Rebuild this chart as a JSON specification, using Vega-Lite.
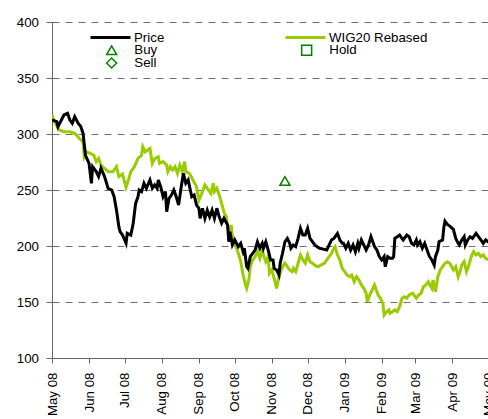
{
  "$schema": "https://vega.github.io/schema/vega-lite/v6.json",
  "width": 436,
  "height": 336,
  "autosize": {"type": "none"},
  "padding": {"left": 52, "top": 22, "right": 0, "bottom": 61},
  "background": "white",
  "config": {
    "view": {"stroke": null},
    "font": "Liberation Sans",
    "axis": {"labelFont": "Liberation Sans", "labelFontSize": 13.3, "labelColor": "#000000", "domainColor": "#666666", "tickColor": "#666666", "title": null},
    "legend": {"labelFont": "Liberation Sans", "labelFontSize": 13.3, "labelColor": "#000000", "padding": 0, "title": null}
  },
  "datasets": {
    "wig": [
      {"date": "2008-05-01", "value": 317, "series": "WIG20 Rebased"},
      {"date": "2008-05-03", "value": 311, "series": "WIG20 Rebased"},
      {"date": "2008-05-07", "value": 303.6, "series": "WIG20 Rebased"},
      {"date": "2008-05-11", "value": 302, "series": "WIG20 Rebased"},
      {"date": "2008-05-16", "value": 302, "series": "WIG20 Rebased"},
      {"date": "2008-05-20", "value": 300.6, "series": "WIG20 Rebased"},
      {"date": "2008-05-24", "value": 296, "series": "WIG20 Rebased"},
      {"date": "2008-05-27", "value": 293, "series": "WIG20 Rebased"},
      {"date": "2008-05-28", "value": 279.7, "series": "WIG20 Rebased"},
      {"date": "2008-05-30", "value": 284, "series": "WIG20 Rebased"},
      {"date": "2008-06-02", "value": 282.7, "series": "WIG20 Rebased"},
      {"date": "2008-06-05", "value": 281, "series": "WIG20 Rebased"},
      {"date": "2008-06-07", "value": 275.3, "series": "WIG20 Rebased"},
      {"date": "2008-06-09", "value": 278.2, "series": "WIG20 Rebased"},
      {"date": "2008-06-11", "value": 272.3, "series": "WIG20 Rebased"},
      {"date": "2008-06-14", "value": 269.4, "series": "WIG20 Rebased"},
      {"date": "2008-06-17", "value": 266.4, "series": "WIG20 Rebased"},
      {"date": "2008-06-21", "value": 266.4, "series": "WIG20 Rebased"},
      {"date": "2008-06-24", "value": 270.8, "series": "WIG20 Rebased"},
      {"date": "2008-06-26", "value": 262, "series": "WIG20 Rebased"},
      {"date": "2008-06-29", "value": 264.3, "series": "WIG20 Rebased"},
      {"date": "2008-07-02", "value": 252.4, "series": "WIG20 Rebased"},
      {"date": "2008-07-04", "value": 259, "series": "WIG20 Rebased"},
      {"date": "2008-07-06", "value": 266.4, "series": "WIG20 Rebased"},
      {"date": "2008-07-09", "value": 270.8, "series": "WIG20 Rebased"},
      {"date": "2008-07-12", "value": 278.2, "series": "WIG20 Rebased"},
      {"date": "2008-07-15", "value": 281, "series": "WIG20 Rebased"},
      {"date": "2008-07-16", "value": 288.6, "series": "WIG20 Rebased"},
      {"date": "2008-07-18", "value": 284, "series": "WIG20 Rebased"},
      {"date": "2008-07-20", "value": 285.7, "series": "WIG20 Rebased"},
      {"date": "2008-07-22", "value": 287, "series": "WIG20 Rebased"},
      {"date": "2008-07-24", "value": 273.8, "series": "WIG20 Rebased"},
      {"date": "2008-07-26", "value": 278, "series": "WIG20 Rebased"},
      {"date": "2008-07-29", "value": 279.7, "series": "WIG20 Rebased"},
      {"date": "2008-07-30", "value": 273.8, "series": "WIG20 Rebased"},
      {"date": "2008-08-02", "value": 275.3, "series": "WIG20 Rebased"},
      {"date": "2008-08-05", "value": 272.3, "series": "WIG20 Rebased"},
      {"date": "2008-08-06", "value": 266.4, "series": "WIG20 Rebased"},
      {"date": "2008-08-08", "value": 270.8, "series": "WIG20 Rebased"},
      {"date": "2008-08-10", "value": 267.9, "series": "WIG20 Rebased"},
      {"date": "2008-08-12", "value": 270.8, "series": "WIG20 Rebased"},
      {"date": "2008-08-14", "value": 264.9, "series": "WIG20 Rebased"},
      {"date": "2008-08-16", "value": 272.3, "series": "WIG20 Rebased"},
      {"date": "2008-08-18", "value": 266.4, "series": "WIG20 Rebased"},
      {"date": "2008-08-20", "value": 275.3, "series": "WIG20 Rebased"},
      {"date": "2008-08-21", "value": 266.4, "series": "WIG20 Rebased"},
      {"date": "2008-08-24", "value": 264.9, "series": "WIG20 Rebased"},
      {"date": "2008-08-27", "value": 259, "series": "WIG20 Rebased"},
      {"date": "2008-08-30", "value": 253, "series": "WIG20 Rebased"},
      {"date": "2008-09-01", "value": 241, "series": "WIG20 Rebased"},
      {"date": "2008-09-04", "value": 248.5, "series": "WIG20 Rebased"},
      {"date": "2008-09-06", "value": 254.5, "series": "WIG20 Rebased"},
      {"date": "2008-09-08", "value": 251.5, "series": "WIG20 Rebased"},
      {"date": "2008-09-11", "value": 247, "series": "WIG20 Rebased"},
      {"date": "2008-09-13", "value": 256, "series": "WIG20 Rebased"},
      {"date": "2008-09-14", "value": 248.5, "series": "WIG20 Rebased"},
      {"date": "2008-09-16", "value": 251.5, "series": "WIG20 Rebased"},
      {"date": "2008-09-18", "value": 245.5, "series": "WIG20 Rebased"},
      {"date": "2008-09-20", "value": 238, "series": "WIG20 Rebased"},
      {"date": "2008-09-22", "value": 230, "series": "WIG20 Rebased"},
      {"date": "2008-09-24", "value": 226, "series": "WIG20 Rebased"},
      {"date": "2008-09-25", "value": 217.2, "series": "WIG20 Rebased"},
      {"date": "2008-09-27", "value": 209.8, "series": "WIG20 Rebased"},
      {"date": "2008-09-28", "value": 218.8, "series": "WIG20 Rebased"},
      {"date": "2008-09-29", "value": 208.3, "series": "WIG20 Rebased"},
      {"date": "2008-10-01", "value": 200.9, "series": "WIG20 Rebased"},
      {"date": "2008-10-02", "value": 199.4, "series": "WIG20 Rebased"},
      {"date": "2008-10-04", "value": 193.5, "series": "WIG20 Rebased"},
      {"date": "2008-10-06", "value": 186, "series": "WIG20 Rebased"},
      {"date": "2008-10-08", "value": 174.1, "series": "WIG20 Rebased"},
      {"date": "2008-10-10", "value": 165.2, "series": "WIG20 Rebased"},
      {"date": "2008-10-11", "value": 162.2, "series": "WIG20 Rebased"},
      {"date": "2008-10-13", "value": 171.1, "series": "WIG20 Rebased"},
      {"date": "2008-10-14", "value": 181.5, "series": "WIG20 Rebased"},
      {"date": "2008-10-16", "value": 187.5, "series": "WIG20 Rebased"},
      {"date": "2008-10-18", "value": 190.5, "series": "WIG20 Rebased"},
      {"date": "2008-10-20", "value": 194.9, "series": "WIG20 Rebased"},
      {"date": "2008-10-22", "value": 189, "series": "WIG20 Rebased"},
      {"date": "2008-10-24", "value": 196.4, "series": "WIG20 Rebased"},
      {"date": "2008-10-25", "value": 192, "series": "WIG20 Rebased"},
      {"date": "2008-10-27", "value": 186, "series": "WIG20 Rebased"},
      {"date": "2008-10-29", "value": 190.5, "series": "WIG20 Rebased"},
      {"date": "2008-10-30", "value": 175.6, "series": "WIG20 Rebased"},
      {"date": "2008-11-01", "value": 178.6, "series": "WIG20 Rebased"},
      {"date": "2008-11-03", "value": 171.1, "series": "WIG20 Rebased"},
      {"date": "2008-11-05", "value": 162.2, "series": "WIG20 Rebased"},
      {"date": "2008-11-07", "value": 172.6, "series": "WIG20 Rebased"},
      {"date": "2008-11-08", "value": 175.6, "series": "WIG20 Rebased"},
      {"date": "2008-11-10", "value": 181.5, "series": "WIG20 Rebased"},
      {"date": "2008-11-12", "value": 184.6, "series": "WIG20 Rebased"},
      {"date": "2008-11-14", "value": 181.5, "series": "WIG20 Rebased"},
      {"date": "2008-11-16", "value": 178.6, "series": "WIG20 Rebased"},
      {"date": "2008-11-18", "value": 177.1, "series": "WIG20 Rebased"},
      {"date": "2008-11-19", "value": 180, "series": "WIG20 Rebased"},
      {"date": "2008-11-21", "value": 177.1, "series": "WIG20 Rebased"},
      {"date": "2008-11-23", "value": 184.6, "series": "WIG20 Rebased"},
      {"date": "2008-11-25", "value": 192, "series": "WIG20 Rebased"},
      {"date": "2008-11-27", "value": 187.5, "series": "WIG20 Rebased"},
      {"date": "2008-11-29", "value": 184.6, "series": "WIG20 Rebased"},
      {"date": "2008-12-01", "value": 192, "series": "WIG20 Rebased"},
      {"date": "2008-12-03", "value": 186, "series": "WIG20 Rebased"},
      {"date": "2008-12-05", "value": 184.6, "series": "WIG20 Rebased"},
      {"date": "2008-12-08", "value": 182.1, "series": "WIG20 Rebased"},
      {"date": "2008-12-10", "value": 181.5, "series": "WIG20 Rebased"},
      {"date": "2008-12-12", "value": 183, "series": "WIG20 Rebased"},
      {"date": "2008-12-15", "value": 184.6, "series": "WIG20 Rebased"},
      {"date": "2008-12-18", "value": 189, "series": "WIG20 Rebased"},
      {"date": "2008-12-21", "value": 193.5, "series": "WIG20 Rebased"},
      {"date": "2008-12-23", "value": 198, "series": "WIG20 Rebased"},
      {"date": "2008-12-24", "value": 199.4, "series": "WIG20 Rebased"},
      {"date": "2008-12-26", "value": 192, "series": "WIG20 Rebased"},
      {"date": "2008-12-28", "value": 187.5, "series": "WIG20 Rebased"},
      {"date": "2008-12-30", "value": 180, "series": "WIG20 Rebased"},
      {"date": "2009-01-01", "value": 177.1, "series": "WIG20 Rebased"},
      {"date": "2009-01-03", "value": 174.1, "series": "WIG20 Rebased"},
      {"date": "2009-01-05", "value": 172.6, "series": "WIG20 Rebased"},
      {"date": "2009-01-07", "value": 174.1, "series": "WIG20 Rebased"},
      {"date": "2009-01-09", "value": 168.1, "series": "WIG20 Rebased"},
      {"date": "2009-01-11", "value": 172.6, "series": "WIG20 Rebased"},
      {"date": "2009-01-13", "value": 169.6, "series": "WIG20 Rebased"},
      {"date": "2009-01-15", "value": 165.2, "series": "WIG20 Rebased"},
      {"date": "2009-01-17", "value": 162.2, "series": "WIG20 Rebased"},
      {"date": "2009-01-19", "value": 157.8, "series": "WIG20 Rebased"},
      {"date": "2009-01-20", "value": 150.3, "series": "WIG20 Rebased"},
      {"date": "2009-01-22", "value": 156.3, "series": "WIG20 Rebased"},
      {"date": "2009-01-24", "value": 160.7, "series": "WIG20 Rebased"},
      {"date": "2009-01-26", "value": 165.2, "series": "WIG20 Rebased"},
      {"date": "2009-01-27", "value": 162.2, "series": "WIG20 Rebased"},
      {"date": "2009-01-29", "value": 156.3, "series": "WIG20 Rebased"},
      {"date": "2009-01-31", "value": 153.3, "series": "WIG20 Rebased"},
      {"date": "2009-02-02", "value": 148.8, "series": "WIG20 Rebased"},
      {"date": "2009-02-03", "value": 138.4, "series": "WIG20 Rebased"},
      {"date": "2009-02-05", "value": 141.3, "series": "WIG20 Rebased"},
      {"date": "2009-02-07", "value": 142.9, "series": "WIG20 Rebased"},
      {"date": "2009-02-08", "value": 139.9, "series": "WIG20 Rebased"},
      {"date": "2009-02-10", "value": 141.3, "series": "WIG20 Rebased"},
      {"date": "2009-02-12", "value": 142.9, "series": "WIG20 Rebased"},
      {"date": "2009-02-14", "value": 141.3, "series": "WIG20 Rebased"},
      {"date": "2009-02-16", "value": 145.8, "series": "WIG20 Rebased"},
      {"date": "2009-02-18", "value": 153.3, "series": "WIG20 Rebased"},
      {"date": "2009-02-20", "value": 154.7, "series": "WIG20 Rebased"},
      {"date": "2009-02-22", "value": 153.3, "series": "WIG20 Rebased"},
      {"date": "2009-02-24", "value": 156.3, "series": "WIG20 Rebased"},
      {"date": "2009-02-27", "value": 157.8, "series": "WIG20 Rebased"},
      {"date": "2009-03-01", "value": 154.7, "series": "WIG20 Rebased"},
      {"date": "2009-03-02", "value": 153.3, "series": "WIG20 Rebased"},
      {"date": "2009-03-04", "value": 156.3, "series": "WIG20 Rebased"},
      {"date": "2009-03-06", "value": 157.8, "series": "WIG20 Rebased"},
      {"date": "2009-03-08", "value": 163.7, "series": "WIG20 Rebased"},
      {"date": "2009-03-10", "value": 165.2, "series": "WIG20 Rebased"},
      {"date": "2009-03-12", "value": 168.1, "series": "WIG20 Rebased"},
      {"date": "2009-03-15", "value": 162.2, "series": "WIG20 Rebased"},
      {"date": "2009-03-16", "value": 169.6, "series": "WIG20 Rebased"},
      {"date": "2009-03-18", "value": 159.2, "series": "WIG20 Rebased"},
      {"date": "2009-03-20", "value": 172.6, "series": "WIG20 Rebased"},
      {"date": "2009-03-22", "value": 178.6, "series": "WIG20 Rebased"},
      {"date": "2009-03-24", "value": 181.5, "series": "WIG20 Rebased"},
      {"date": "2009-03-26", "value": 184.6, "series": "WIG20 Rebased"},
      {"date": "2009-03-28", "value": 186, "series": "WIG20 Rebased"},
      {"date": "2009-03-30", "value": 184.6, "series": "WIG20 Rebased"},
      {"date": "2009-04-02", "value": 178.6, "series": "WIG20 Rebased"},
      {"date": "2009-04-04", "value": 181.5, "series": "WIG20 Rebased"},
      {"date": "2009-04-06", "value": 172.6, "series": "WIG20 Rebased"},
      {"date": "2009-04-08", "value": 178.6, "series": "WIG20 Rebased"},
      {"date": "2009-04-09", "value": 183, "series": "WIG20 Rebased"},
      {"date": "2009-04-11", "value": 186, "series": "WIG20 Rebased"},
      {"date": "2009-04-13", "value": 177.1, "series": "WIG20 Rebased"},
      {"date": "2009-04-15", "value": 183, "series": "WIG20 Rebased"},
      {"date": "2009-04-17", "value": 190.5, "series": "WIG20 Rebased"},
      {"date": "2009-04-19", "value": 194.9, "series": "WIG20 Rebased"},
      {"date": "2009-04-21", "value": 192, "series": "WIG20 Rebased"},
      {"date": "2009-04-23", "value": 193.5, "series": "WIG20 Rebased"},
      {"date": "2009-04-25", "value": 190.5, "series": "WIG20 Rebased"},
      {"date": "2009-04-27", "value": 192, "series": "WIG20 Rebased"},
      {"date": "2009-04-29", "value": 189, "series": "WIG20 Rebased"},
      {"date": "2009-05-01", "value": 188, "series": "WIG20 Rebased"},
      {"date": "2009-05-04", "value": 189, "series": "WIG20 Rebased"}
    ],
    "price": [
      {"date": "2008-05-01", "value": 312.5, "series": "Price"},
      {"date": "2008-05-05", "value": 311, "series": "Price"},
      {"date": "2008-05-06", "value": 306.5, "series": "Price"},
      {"date": "2008-05-11", "value": 317, "series": "Price"},
      {"date": "2008-05-14", "value": 318.5, "series": "Price"},
      {"date": "2008-05-16", "value": 312.5, "series": "Price"},
      {"date": "2008-05-18", "value": 309.5, "series": "Price"},
      {"date": "2008-05-20", "value": 315.5, "series": "Price"},
      {"date": "2008-05-23", "value": 309.5, "series": "Price"},
      {"date": "2008-05-25", "value": 307, "series": "Price"},
      {"date": "2008-05-27", "value": 300.6, "series": "Price"},
      {"date": "2008-05-29", "value": 281, "series": "Price"},
      {"date": "2008-06-01", "value": 273.8, "series": "Price"},
      {"date": "2008-06-03", "value": 256, "series": "Price"},
      {"date": "2008-06-04", "value": 270.8, "series": "Price"},
      {"date": "2008-06-07", "value": 266.4, "series": "Price"},
      {"date": "2008-06-09", "value": 262, "series": "Price"},
      {"date": "2008-06-11", "value": 269.4, "series": "Price"},
      {"date": "2008-06-14", "value": 262, "series": "Price"},
      {"date": "2008-06-17", "value": 251.5, "series": "Price"},
      {"date": "2008-06-20", "value": 250, "series": "Price"},
      {"date": "2008-06-22", "value": 244, "series": "Price"},
      {"date": "2008-06-24", "value": 232, "series": "Price"},
      {"date": "2008-06-26", "value": 217, "series": "Price"},
      {"date": "2008-06-27", "value": 212.8, "series": "Price"},
      {"date": "2008-06-29", "value": 209.8, "series": "Price"},
      {"date": "2008-07-02", "value": 202.4, "series": "Price"},
      {"date": "2008-07-03", "value": 211.3, "series": "Price"},
      {"date": "2008-07-06", "value": 209.8, "series": "Price"},
      {"date": "2008-07-08", "value": 220.3, "series": "Price"},
      {"date": "2008-07-10", "value": 238, "series": "Price"},
      {"date": "2008-07-12", "value": 244, "series": "Price"},
      {"date": "2008-07-13", "value": 250, "series": "Price"},
      {"date": "2008-07-15", "value": 248.5, "series": "Price"},
      {"date": "2008-07-17", "value": 256, "series": "Price"},
      {"date": "2008-07-19", "value": 251.5, "series": "Price"},
      {"date": "2008-07-22", "value": 259, "series": "Price"},
      {"date": "2008-07-24", "value": 251.5, "series": "Price"},
      {"date": "2008-07-26", "value": 254.5, "series": "Price"},
      {"date": "2008-07-28", "value": 251.5, "series": "Price"},
      {"date": "2008-07-29", "value": 259, "series": "Price"},
      {"date": "2008-07-31", "value": 253, "series": "Price"},
      {"date": "2008-08-02", "value": 244, "series": "Price"},
      {"date": "2008-08-04", "value": 248.5, "series": "Price"},
      {"date": "2008-08-05", "value": 230.6, "series": "Price"},
      {"date": "2008-08-07", "value": 242.6, "series": "Price"},
      {"date": "2008-08-09", "value": 245.5, "series": "Price"},
      {"date": "2008-08-11", "value": 250, "series": "Price"},
      {"date": "2008-08-13", "value": 244, "series": "Price"},
      {"date": "2008-08-15", "value": 236.5, "series": "Price"},
      {"date": "2008-08-17", "value": 251.5, "series": "Price"},
      {"date": "2008-08-19", "value": 264.9, "series": "Price"},
      {"date": "2008-08-21", "value": 256, "series": "Price"},
      {"date": "2008-08-23", "value": 259, "series": "Price"},
      {"date": "2008-08-26", "value": 244, "series": "Price"},
      {"date": "2008-08-28", "value": 245.5, "series": "Price"},
      {"date": "2008-08-30", "value": 236.5, "series": "Price"},
      {"date": "2008-09-01", "value": 233.7, "series": "Price"},
      {"date": "2008-09-02", "value": 224.7, "series": "Price"},
      {"date": "2008-09-04", "value": 233.7, "series": "Price"},
      {"date": "2008-09-06", "value": 224.7, "series": "Price"},
      {"date": "2008-09-08", "value": 232, "series": "Price"},
      {"date": "2008-09-10", "value": 226, "series": "Price"},
      {"date": "2008-09-12", "value": 232, "series": "Price"},
      {"date": "2008-09-14", "value": 224.7, "series": "Price"},
      {"date": "2008-09-16", "value": 233.7, "series": "Price"},
      {"date": "2008-09-18", "value": 226, "series": "Price"},
      {"date": "2008-09-20", "value": 220.3, "series": "Price"},
      {"date": "2008-09-22", "value": 224.7, "series": "Price"},
      {"date": "2008-09-25", "value": 218.8, "series": "Price"},
      {"date": "2008-09-26", "value": 203.8, "series": "Price"},
      {"date": "2008-09-27", "value": 212.8, "series": "Price"},
      {"date": "2008-09-29", "value": 200.9, "series": "Price"},
      {"date": "2008-10-01", "value": 205.4, "series": "Price"},
      {"date": "2008-10-04", "value": 199.4, "series": "Price"},
      {"date": "2008-10-06", "value": 202.4, "series": "Price"},
      {"date": "2008-10-08", "value": 194.9, "series": "Price"},
      {"date": "2008-10-09", "value": 198, "series": "Price"},
      {"date": "2008-10-11", "value": 181.5, "series": "Price"},
      {"date": "2008-10-12", "value": 180, "series": "Price"},
      {"date": "2008-10-14", "value": 190.5, "series": "Price"},
      {"date": "2008-10-16", "value": 193.5, "series": "Price"},
      {"date": "2008-10-18", "value": 196.4, "series": "Price"},
      {"date": "2008-10-20", "value": 203.8, "series": "Price"},
      {"date": "2008-10-22", "value": 198, "series": "Price"},
      {"date": "2008-10-24", "value": 202.4, "series": "Price"},
      {"date": "2008-10-25", "value": 198, "series": "Price"},
      {"date": "2008-10-27", "value": 203.8, "series": "Price"},
      {"date": "2008-10-29", "value": 196.4, "series": "Price"},
      {"date": "2008-10-31", "value": 187.5, "series": "Price"},
      {"date": "2008-11-02", "value": 187.5, "series": "Price"},
      {"date": "2008-11-03", "value": 180, "series": "Price"},
      {"date": "2008-11-05", "value": 178.6, "series": "Price"},
      {"date": "2008-11-07", "value": 174.1, "series": "Price"},
      {"date": "2008-11-08", "value": 184.6, "series": "Price"},
      {"date": "2008-11-10", "value": 193.5, "series": "Price"},
      {"date": "2008-11-12", "value": 203.8, "series": "Price"},
      {"date": "2008-11-14", "value": 206.8, "series": "Price"},
      {"date": "2008-11-16", "value": 202.4, "series": "Price"},
      {"date": "2008-11-17", "value": 198, "series": "Price"},
      {"date": "2008-11-19", "value": 200.9, "series": "Price"},
      {"date": "2008-11-21", "value": 199.4, "series": "Price"},
      {"date": "2008-11-23", "value": 206.8, "series": "Price"},
      {"date": "2008-11-25", "value": 215.8, "series": "Price"},
      {"date": "2008-11-27", "value": 209.8, "series": "Price"},
      {"date": "2008-11-29", "value": 209.8, "series": "Price"},
      {"date": "2008-12-01", "value": 215.8, "series": "Price"},
      {"date": "2008-12-03", "value": 206.8, "series": "Price"},
      {"date": "2008-12-05", "value": 203.8, "series": "Price"},
      {"date": "2008-12-07", "value": 200.9, "series": "Price"},
      {"date": "2008-12-09", "value": 199.4, "series": "Price"},
      {"date": "2008-12-11", "value": 198, "series": "Price"},
      {"date": "2008-12-15", "value": 197, "series": "Price"},
      {"date": "2008-12-17", "value": 196.4, "series": "Price"},
      {"date": "2008-12-19", "value": 200.9, "series": "Price"},
      {"date": "2008-12-21", "value": 205.4, "series": "Price"},
      {"date": "2008-12-23", "value": 206.8, "series": "Price"},
      {"date": "2008-12-26", "value": 211.3, "series": "Price"},
      {"date": "2008-12-28", "value": 205.4, "series": "Price"},
      {"date": "2008-12-30", "value": 202.4, "series": "Price"},
      {"date": "2008-12-31", "value": 202.4, "series": "Price"},
      {"date": "2009-01-02", "value": 198, "series": "Price"},
      {"date": "2009-01-04", "value": 202.4, "series": "Price"},
      {"date": "2009-01-06", "value": 196.4, "series": "Price"},
      {"date": "2009-01-08", "value": 200.9, "series": "Price"},
      {"date": "2009-01-10", "value": 194.9, "series": "Price"},
      {"date": "2009-01-12", "value": 202.4, "series": "Price"},
      {"date": "2009-01-13", "value": 198, "series": "Price"},
      {"date": "2009-01-15", "value": 205.4, "series": "Price"},
      {"date": "2009-01-17", "value": 200.9, "series": "Price"},
      {"date": "2009-01-19", "value": 196.4, "series": "Price"},
      {"date": "2009-01-21", "value": 200.9, "series": "Price"},
      {"date": "2009-01-23", "value": 208.3, "series": "Price"},
      {"date": "2009-01-25", "value": 202.4, "series": "Price"},
      {"date": "2009-01-26", "value": 199.4, "series": "Price"},
      {"date": "2009-01-28", "value": 196.4, "series": "Price"},
      {"date": "2009-01-30", "value": 190.5, "series": "Price"},
      {"date": "2009-02-01", "value": 187.5, "series": "Price"},
      {"date": "2009-02-03", "value": 190.5, "series": "Price"},
      {"date": "2009-02-04", "value": 181.5, "series": "Price"},
      {"date": "2009-02-06", "value": 190.5, "series": "Price"},
      {"date": "2009-02-08", "value": 189, "series": "Price"},
      {"date": "2009-02-10", "value": 189, "series": "Price"},
      {"date": "2009-02-11", "value": 190.5, "series": "Price"},
      {"date": "2009-02-12", "value": 206.8, "series": "Price"},
      {"date": "2009-02-14", "value": 208.3, "series": "Price"},
      {"date": "2009-02-16", "value": 209.8, "series": "Price"},
      {"date": "2009-02-19", "value": 205.4, "series": "Price"},
      {"date": "2009-02-22", "value": 209.8, "series": "Price"},
      {"date": "2009-02-24", "value": 208.3, "series": "Price"},
      {"date": "2009-02-26", "value": 202.4, "series": "Price"},
      {"date": "2009-02-28", "value": 200.9, "series": "Price"},
      {"date": "2009-03-02", "value": 205.4, "series": "Price"},
      {"date": "2009-03-03", "value": 200.9, "series": "Price"},
      {"date": "2009-03-05", "value": 203.8, "series": "Price"},
      {"date": "2009-03-07", "value": 198, "series": "Price"},
      {"date": "2009-03-09", "value": 202.4, "series": "Price"},
      {"date": "2009-03-11", "value": 196.4, "series": "Price"},
      {"date": "2009-03-13", "value": 190.5, "series": "Price"},
      {"date": "2009-03-15", "value": 187.5, "series": "Price"},
      {"date": "2009-03-17", "value": 183, "series": "Price"},
      {"date": "2009-03-18", "value": 190.5, "series": "Price"},
      {"date": "2009-03-20", "value": 196.4, "series": "Price"},
      {"date": "2009-03-21", "value": 203.8, "series": "Price"},
      {"date": "2009-03-24", "value": 205.4, "series": "Price"},
      {"date": "2009-03-25", "value": 216.3, "series": "Price"},
      {"date": "2009-03-26", "value": 222.2, "series": "Price"},
      {"date": "2009-03-28", "value": 219.3, "series": "Price"},
      {"date": "2009-03-30", "value": 217.8, "series": "Price"},
      {"date": "2009-04-02", "value": 214.8, "series": "Price"},
      {"date": "2009-04-04", "value": 206.8, "series": "Price"},
      {"date": "2009-04-06", "value": 202.4, "series": "Price"},
      {"date": "2009-04-07", "value": 200.9, "series": "Price"},
      {"date": "2009-04-09", "value": 205.4, "series": "Price"},
      {"date": "2009-04-11", "value": 208.3, "series": "Price"},
      {"date": "2009-04-12", "value": 200.9, "series": "Price"},
      {"date": "2009-04-14", "value": 205.4, "series": "Price"},
      {"date": "2009-04-16", "value": 208.3, "series": "Price"},
      {"date": "2009-04-18", "value": 206.8, "series": "Price"},
      {"date": "2009-04-21", "value": 211.3, "series": "Price"},
      {"date": "2009-04-23", "value": 208.3, "series": "Price"},
      {"date": "2009-04-25", "value": 205.4, "series": "Price"},
      {"date": "2009-04-27", "value": 202.4, "series": "Price"},
      {"date": "2009-04-29", "value": 205.4, "series": "Price"},
      {"date": "2009-05-01", "value": 203.8, "series": "Price"},
      {"date": "2009-05-04", "value": 205, "series": "Price"}
    ],
    "signals": [
      {"date": "2008-11-12", "value": 258, "signal": "Buy"}
    ]
  },
  "encoding": {
    "x": {
      "field": "date",
      "type": "temporal",
      "scale": {"type": "utc", "domain": [{"year": 2008, "month": 5, "date": 1, "utc": true}, {"year": 2009, "month": 5, "date": 1, "utc": true}]},
      "axis": {"title": null, "grid": false, "tickCount": {"interval": "month", "step": 1}, "labelExpr": "utcFormat(datum.value, '%b %y')", "labelAngle": 270, "tickSize": 5, "labelPadding": 9, "labelFlush": false, "labelOverlap": false, "labelBound": false}
    },
    "y": {
      "field": "value",
      "type": "quantitative",
      "scale": {"domain": [100, 400], "nice": false, "zero": false},
      "axis": {"title": null, "values": [100, 150, 200, 250, 300, 350, 400], "grid": true, "gridDash": [7, 6], "gridColor": "#707070", "gridWidth": 1, "tickSize": 6, "labelPadding": 7.5}
    }
  },
  "layer": [
    {
      "data": {"name": "wig"},
      "mark": {"type": "line", "strokeWidth": 3, "clip": true},
      "encoding": {
        "color": {
          "field": "series",
          "type": "nominal",
          "scale": {"domain": ["Price", "WIG20 Rebased"], "range": ["#000000", "#99CC00"]},
          "legend": {"orient": "none", "direction": "horizontal", "legendX": 37, "legendY": 9, "columns": 2, "columnPadding": 119, "symbolType": "stroke", "symbolSize": 1600, "symbolStrokeWidth": 3, "labelOffset": 2, "clipHeight": 13, "title": null}
        }
      }
    },
    {
      "data": {"name": "price"},
      "mark": {"type": "line", "strokeWidth": 3, "clip": true},
      "encoding": {
        "color": {"field": "series", "type": "nominal"}
      }
    },
    {
      "data": {"name": "signals"},
      "mark": {"type": "point", "filled": false, "color": "#008000", "size": 100, "strokeWidth": 1.5, "opacity": 1},
      "encoding": {
        "shape": {
          "field": "signal",
          "type": "nominal",
          "scale": {"domain": ["Buy", "Hold", "Sell"], "range": ["triangle-up", "square", "diamond"]},
          "legend": {"orient": "none", "direction": "horizontal", "legendX": 53, "legendY": 21.75, "values": ["Buy", "Hold", "Sell"], "columns": 2, "columnPadding": 142, "rowPadding": -1, "symbolSize": 100, "symbolStrokeWidth": 1.5, "symbolStrokeColor": "#008000", "symbolFillColor": "transparent", "labelOffset": 16, "clipHeight": 12.5, "title": null}
        }
      }
    }
  ]
}
